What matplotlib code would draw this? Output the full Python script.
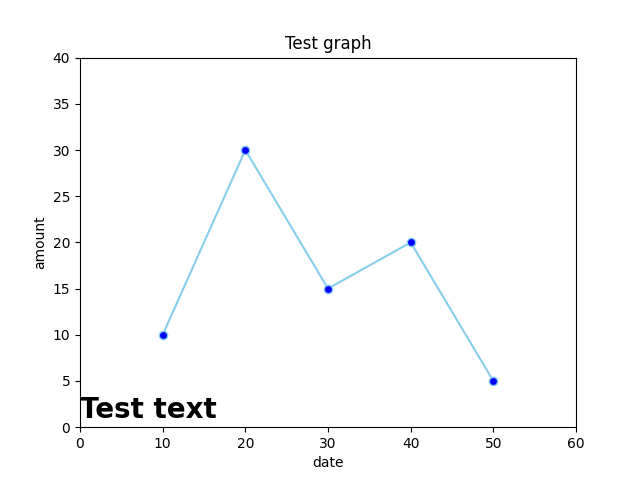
import matplotlib
matplotlib.use("Agg")
import matplotlib.pyplot as plt

dates = [10, 20, 30, 40, 50]
amounts = [10, 30, 15, 20, 5]

plt.figure(figsize=(6.4, 4.8), dpi=100)
plt.plot(dates, amounts, color='skyblue', marker='o', markerfacecolor='blue', markersize=6)
plt.xlim(0, 60)
plt.ylim(0, 40)
plt.xlabel("date")
plt.ylabel("amount")
plt.title("Test graph")
plt.text(0, 1, "Test text", fontsize=20, fontweight='bold')
plt.savefig("out.png")
